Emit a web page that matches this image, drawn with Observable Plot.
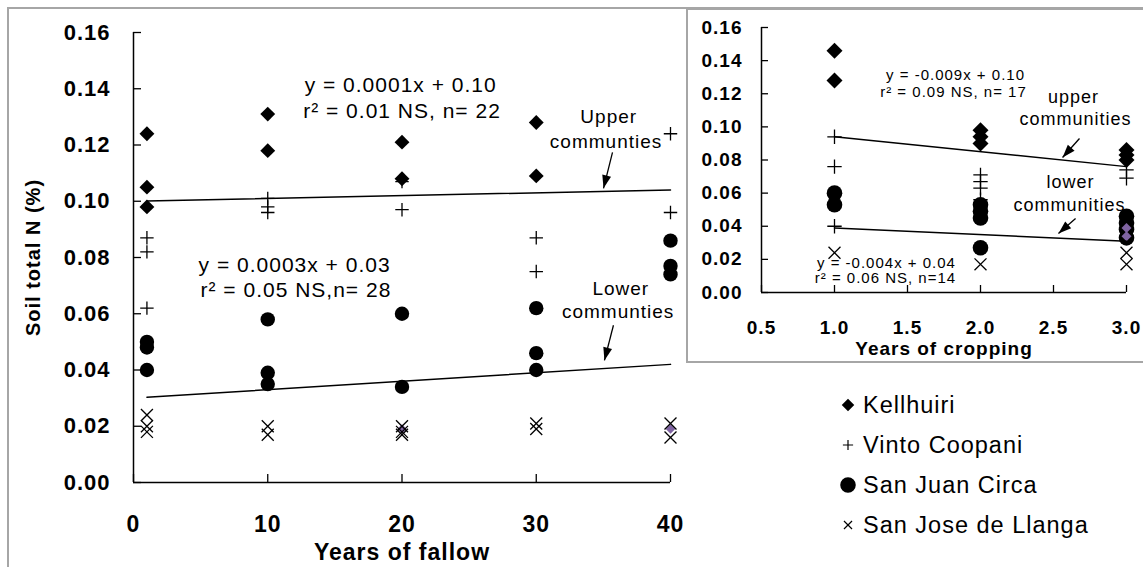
<!DOCTYPE html>
<html><head><meta charset="utf-8">
<script src="https://cdn.jsdelivr.net/npm/d3@7"></script>
<script src="https://cdn.jsdelivr.net/npm/@observablehq/plot@0.6"></script>
<style>
html,body{margin:0;padding:0;width:1143px;height:567px;overflow:hidden;background:#fff;}
#wrap{position:relative;width:1143px;height:567px;overflow:hidden;font-family:"Liberation Sans",Arial,sans-serif;}
#frame{position:absolute;left:7px;top:7px;width:2000px;height:2000px;border:2px solid #a6a6a6;box-sizing:border-box;}
#main{position:absolute;left:0;top:0;}
#inset{position:absolute;left:686px;top:8px;width:470px;height:351px;border:2px solid #a6a6a6;background:#fff;}
#legend{position:absolute;left:0;top:0;}
svg text{letter-spacing:1px;}
</style>
</head><body><div id="wrap"><div id="frame"></div><div id="main"></div><div id="inset"></div><div id="legend"></div></div>
<script>
// ---------- DATA: main chart (years of fallow) ----------
const legendLabels = ["Kellhuiri", "Vinto Coopani", "San Juan Circa", "San Jose de Llanga"];
const mainXTicks = [0, 10, 20, 30, 40];
const mainYTicks = [0, 0.02, 0.04, 0.06, 0.08, 0.10, 0.12, 0.14, 0.16];
const fallowKellhuiri = [[1,0.124],[1,0.105],[1,0.098],[10,0.131],[10,0.118],[20,0.121],[20,0.108],[30,0.128],[30,0.109]];
const fallowVinto = [[1,0.087],[1,0.082],[1,0.062],[10,0.101],[10,0.098],[10,0.096],[20,0.107],[20,0.097],[30,0.087],[30,0.075],[40,0.124],[40,0.096]];
const fallowSanJuan = [[1,0.050],[1,0.048],[1,0.040],[10,0.058],[10,0.039],[10,0.035],[20,0.060],[20,0.034],[30,0.062],[30,0.046],[30,0.040],[40,0.086],[40,0.077],[40,0.074]];
const fallowSanJose = [[1,0.024],[1,0.020],[1,0.018],[10,0.020],[10,0.017],[20,0.020],[20,0.018],[20,0.017],[30,0.021],[30,0.019],[40,0.021],[40,0.016]];
const fallowOther = [[20,0.019],[40,0.019]];
const fallowUpperFit = [[1,0.1001],[40,0.104]];
const fallowLowerFit = [[1,0.0303],[40,0.042]];

// ---------- DATA: inset (years of cropping) ----------
const cropXTicks = [0.5, 1.0, 1.5, 2.0, 2.5, 3.0];
const cropYTicks = [0, 0.02, 0.04, 0.06, 0.08, 0.10, 0.12, 0.14, 0.16];
const cropKellhuiri = [[1,0.146],[1,0.128],[2,0.098],[2,0.094],[2,0.090],[3,0.086],[3,0.083],[3,0.080]];
const cropVinto = [[1,0.094],[1,0.076],[1,0.040],[2,0.071],[2,0.067],[2,0.063],[2,0.056],[3,0.074],[3,0.069]];
const cropSanJuan = [[1,0.060],[1,0.053],[2,0.053],[2,0.049],[2,0.045],[2,0.027],[3,0.046],[3,0.042],[3,0.038],[3,0.033]];
const cropSanJose = [[1,0.024],[2,0.017],[3,0.024],[3,0.017]];
const cropOther = [[3,0.039],[3,0.034]];
const cropUpperFit = [[1,0.094],[3,0.076]];
const cropLowerFit = [[1,0.039],[3,0.031]];

// ---------- annotations ----------
const mainEquations = [
  {x:19.9, y:0.1413, t:"y = 0.0001x + 0.10"},
  {x:20.0, y:0.1320, t:"r\u00b2 = 0.01 NS, n= 22"},
  {x:12.0, y:0.0772, t:"y = 0.0003x + 0.03"},
  {x:12.1, y:0.0683, t:"r\u00b2 = 0.05 NS,n= 28"}
];
const mainGroupLabels = [
  {x:35.4, y:0.1299, t:"Upper"},
  {x:35.2, y:0.1210, t:"communties"},
  {x:36.3, y:0.0687, t:"Lower"},
  {x:36.1, y:0.0605, t:"communties"}
];
const mainArrows = [[35.68,0.1174,35.01,0.1046],[35.75,0.0559,35.08,0.0434]];
const cropEquations = [
  {x:1.829, y:0.1310, t:"y = -0.009x + 0.10"},
  {x:1.815, y:0.1212, t:"r\u00b2 = 0.09 NS, n= 17"},
  {x:1.356, y:0.0175, t:"y = -0.004x + 0.04"},
  {x:1.349, y:0.0085, t:"r\u00b2 = 0.06 NS, n=14"}
];
const cropGroupLabels = [
  {x:2.637, y:0.1178, t:"upper"},
  {x:2.650, y:0.1045, t:"communities"},
  {x:2.616, y:0.0664, t:"lower"},
  {x:2.610, y:0.0525, t:"communities"}
];
const cropArrows = [[2.678,0.0930,2.562,0.0815],[2.651,0.0447,2.534,0.0356]];

// ---------- helpers ----------
const FONT = '"Liberation Sans", Arial, sans-serif';
const purple = "#8064a2";
const X = d => d[0], Y = d => d[1];
const headSymbol = {draw(ctx){ ctx.moveTo(0,0); ctx.lineTo(-4.5,13); ctx.lineTo(4.5,13); ctx.closePath(); }};
function arrowMarks(list, kx, ky){
  return list.flatMap(a => {
    const sdx = (a[2]-a[0])*kx, sdy = -(a[3]-a[1])*ky;
    const ang = Math.atan2(sdx, -sdy)*180/Math.PI;
    return [
      Plot.link([a], {x1:d=>d[0], y1:d=>d[1], x2:d=>d[2], y2:d=>d[3], stroke:"#000", strokeWidth:1.3}),
      Plot.dot([a], {x:d=>d[2], y:d=>d[3], symbol: headSymbol, fill:"#000", stroke:"none", rotate: ang})
    ];
  });
}
function seriesMarks(k, v, pu, sizes){
  return [
    Plot.dot(k, {x:X, y:Y, symbol:"diamond2", r:sizes.d, fill:"#000", stroke:"none"}),
    Plot.dot(v, {x:X, y:Y, symbol:"plus", r:sizes.p, stroke:"#000", strokeWidth:1.3, fill:"none"}),
    Plot.dot(pu, {x:X, y:Y, symbol:"circle", r:sizes.c, fill:"#000", stroke:"none"})
  ];
}

// ---------- main chart ----------
const mW = 1143, mH = 567, mL = 133, mR = 473, mT = 32, mB = 85;
const mFW = mW - mL - mR, mFH = mH - mT - mB;
const mainPlot = Plot.plot({
  width: mW, height: mH,
  marginLeft: mL, marginRight: mR, marginTop: mT, marginBottom: mB,
  x: {domain: [0, 40]},
  y: {domain: [0, 0.16]},
  style: {fontFamily: FONT, color: "#000", background: "transparent", overflow: "visible"},
  marks: [
    Plot.axisY(mainYTicks, {tickSize: 0, tickPadding: 23, tickFormat: d3.format(".2f"), fontSize: 22, fontWeight: "bold", label: null}),
    Plot.axisX(mainXTicks, {tickSize: 0, tickPadding: 33, tickFormat: d3.format("d"), fontSize: 23, fontWeight: "bold", label: null}),
    Plot.tickY(mainYTicks, {y: d => d, insetRight: mFW - 8, stroke: "#000", strokeWidth: 1.3}),
    Plot.tickX(mainXTicks, {x: d => d, insetTop: mFH - 8, stroke: "#000", strokeWidth: 1.3}),
    Plot.ruleX([0], {y1: 0, y2: 0.16, stroke: "#000", strokeWidth: 1.5}),
    Plot.ruleY([0], {x1: 0, x2: 40, stroke: "#000", strokeWidth: 1.5}),
    Plot.text(["Years of fallow"], {frameAnchor: "bottom", lineAnchor: "middle", textAnchor: "middle", dy: 70, fontSize: 23, fontWeight: "bold"}),
    Plot.text(["Soil total N (%)"], {frameAnchor: "left", lineAnchor: "middle", textAnchor: "middle", dx: -100, rotate: -90, fontSize: 20, fontWeight: "bold"}),
    ...seriesMarks(fallowKellhuiri, fallowVinto, fallowSanJuan, {d:6.7, p:4.4, c:7.2}),
    Plot.dot(fallowOther, {x:X, y:Y, symbol:"diamond2", r:4.3, fill:purple, stroke:"none"}),
    Plot.dot(fallowSanJose, {x:X, y:Y, symbol:"times", r:5.5, stroke:"#000", strokeWidth:1.3}),
    Plot.line(fallowUpperFit, {x:X, y:Y, stroke:"#000", strokeWidth:1.5}),
    Plot.line(fallowLowerFit, {x:X, y:Y, stroke:"#000", strokeWidth:1.5}),
    Plot.text(mainEquations, {x:"x", y:"y", text:"t", fontSize: 21}),
    Plot.text(mainGroupLabels, {x:"x", y:"y", text:"t", fontSize: 19}),
    ...arrowMarks(mainArrows, mFW/40, mFH/0.16)
  ]
});
document.getElementById("main").appendChild(mainPlot);

// ---------- inset chart ----------
const iW = 470, iH = 351, iL = 73, iR = 32, iT = 17, iB = 69;
const iFW = iW - iL - iR, iFH = iH - iT - iB;
const insetPlot = Plot.plot({
  width: iW, height: iH,
  marginLeft: iL, marginRight: iR, marginTop: iT, marginBottom: iB,
  x: {domain: [0.5, 3.0]},
  y: {domain: [0, 0.16]},
  style: {fontFamily: FONT, color: "#000", background: "transparent", overflow: "visible"},
  marks: [
    Plot.axisY(cropYTicks, {tickSize: 0, tickPadding: 19, tickFormat: d3.format(".2f"), fontSize: 19, fontWeight: "bold", label: null}),
    Plot.axisX(cropXTicks, {tickSize: 0, tickPadding: 28, tickFormat: d3.format(".1f"), fontSize: 19, fontWeight: "bold", label: null}),
    Plot.tickY(cropYTicks, {y: d => d, insetRight: iFW - 7, stroke: "#000", strokeWidth: 1.3}),
    Plot.tickX(cropXTicks, {x: d => d, insetTop: iFH - 7, stroke: "#000", strokeWidth: 1.3}),
    Plot.ruleX([0.5], {y1: 0, y2: 0.16, stroke: "#000", strokeWidth: 1.5}),
    Plot.ruleY([0], {x1: 0.5, x2: 3.0, stroke: "#000", strokeWidth: 1.5}),
    Plot.text(["Years of cropping"], {frameAnchor: "bottom", lineAnchor: "middle", textAnchor: "middle", dy: 56, fontSize: 19, fontWeight: "bold"}),
    Plot.text(cropEquations, {x:"x", y:"y", text:"t", fontSize: 15}),
    Plot.text(cropGroupLabels, {x:"x", y:"y", text:"t", fontSize: 18}),
    ...seriesMarks(cropKellhuiri, cropVinto, cropSanJuan, {d:7.2, p:4.7, c:7.8}),
    Plot.dot(cropOther, {x:X, y:Y, symbol:"diamond2", r:4.5, fill:purple, stroke:"none"}),
    Plot.dot(cropSanJose, {x:X, y:Y, symbol:"times", r:5.5, stroke:"#000", strokeWidth:1.3}),
    Plot.line(cropUpperFit, {x:X, y:Y, stroke:"#000", strokeWidth:1.5}),
    Plot.line(cropLowerFit, {x:X, y:Y, stroke:"#000", strokeWidth:1.5}),
    ...arrowMarks(cropArrows, iFW/2.5, iFH/0.16)
  ]
});
document.getElementById("inset").appendChild(insetPlot);

// ---------- legend ----------
const legendSymbols = [
  {type: d3.symbolDiamond2, size: 100, fill: "#000", stroke: "none"},
  {type: d3.symbolPlus, size: 36, fill: "none", stroke: "#000"},
  {type: d3.symbolCircle, size: 190, fill: "#000", stroke: "none"},
  {type: d3.symbolTimes, size: 44, fill: "none", stroke: "#000"}
];
const lg = d3.select("#legend").append("svg").attr("width", 1143).attr("height", 567)
  .style("font-family", FONT);
legendLabels.forEach((name, i) => {
  const cy = 405 + i * 40;
  const s = legendSymbols[i];
  lg.append("path").attr("d", d3.symbol(s.type, s.size)())
    .attr("transform", `translate(848,${cy})`)
    .attr("fill", s.fill).attr("stroke", s.stroke).attr("stroke-width", 1.2);
  lg.append("text").attr("x", 863).attr("y", cy).attr("dy", "0.35em")
    .attr("font-size", 23.5).attr("fill", "#000").text(name);
});
</script>
</body></html>
